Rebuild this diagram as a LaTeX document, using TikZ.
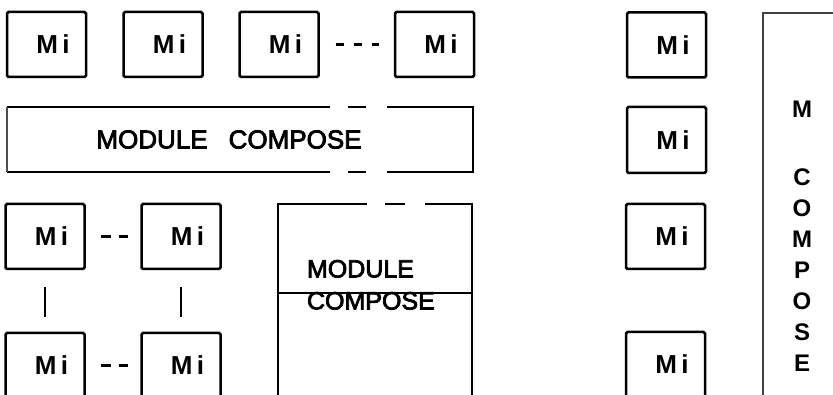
\documentclass[tikz,border=0pt]{standalone}
\usepackage{fontspec}
\setmainfont{Liberation Sans}
\newfontfamily\medfont[FakeBold=3]{Liberation Sans}
\newcommand\MiLbl{\hspace*{13pt}M\kern4.5pt i}
\begin{document}
\begin{tikzpicture}[x=1pt,y=-1pt,
  mibox/.style={draw, line width=2.5pt, minimum width=79pt, minimum height=65pt, inner sep=0pt, outer sep=0pt, rounded corners=1.5pt, font=\bfseries\fontsize{26}{30}\selectfont},
  frame/.style={line width=2.2pt, black},
  dashlinkA/.style={line width=2.2pt, dash pattern=on 8pt off 10pt},
  dashlinkB/.style={line width=2.2pt, dash pattern=on 10pt off 8pt},
  solidlink/.style={line width=2.2pt},
  blank/.style={inner sep=0pt, outer sep=0pt},
]
\useasboundingbox (0,0) rectangle (833,395);
\clip (0,0) rectangle (833,395);

% top row
\node[mibox] (m1) at (46.5,44.5) {\MiLbl};
\node[mibox] (m2) at (163,44.5) {\MiLbl};
\node[mibox] (m3) at (279,44.5) {\MiLbl};
\node[mibox] (m4) at (434.5,44.5) {\MiLbl};
\draw[dashlinkA, shorten <=17pt, shorten >=16pt] (m3.east) -- (m4.west);

% horizontal module compose
\node[blank, minimum width=466pt, minimum height=65pt, font=\medfont\fontsize{26}{30}\selectfont] (mc1) at (240,139.5) {MODULE\hspace{21pt}COMPOSE\hspace*{22pt}};
\draw[frame] (mc1.north west) -- +(323,0);
\draw[frame] ([xshift=341pt]mc1.north west) -- +(18,0);
\draw[frame] ([xshift=-86pt]mc1.north east) -- (mc1.north east) -- (mc1.south east) -- +(-86,0);
\draw[frame] ([xshift=341pt]mc1.south west) -- +(18,0);
\draw[frame] (mc1.south west) -- +(323,0);
\draw[line width=1.2pt, black!70] (mc1.north west) -- (mc1.south west);

% lower-left grid
\node[mibox] (b1) at (45,236.5) {\MiLbl};
\node[mibox] (b2) at (181,236.5) {\MiLbl};
\node[mibox] (b3) at (45,365.5) {\MiLbl};
\node[mibox] (b4) at (181,365.5) {\MiLbl};
\draw[dashlinkB, shorten <=16pt, shorten >=14pt] (b1.east) -- (b2.west);
\draw[dashlinkB, shorten <=16pt, shorten >=14pt] (b3.east) -- (b4.west);
\draw[solidlink, shorten <=18pt, shorten >=16pt] (b1.south) -- (b3.north);
\draw[solidlink, shorten <=18pt, shorten >=16pt] (b2.south) -- (b4.north);

% vertical module compose (lower middle)
\node[blank, minimum width=194pt, minimum height=196pt] (mc2) at (375,302) {};
\draw[frame] ([xshift=89pt]mc2.north west) -- (mc2.north west) -- (mc2.south west);
\draw[frame] ([xshift=107pt]mc2.north west) -- +(20,0);
\draw[frame] ([xshift=-47pt]mc2.north east) -- (mc2.north east) -- (mc2.south east);
\draw[frame] ([yshift=-89pt]mc2.north west) -- ([yshift=-89pt]mc2.north east);
\node[blank, anchor=north west, align=left, font=\medfont\fontsize{25}{32}\selectfont] (mc2t) at (307,260) {MODULE\\COMPOSE};

% right column
\node[mibox] (r1) at (666.5,45) {\MiLbl};
\node[mibox, minimum height=66pt] (r2) at (666.5,140) {\MiLbl};
\node[mibox] (r3) at (665.5,236.5) {\MiLbl};
\node[mibox] (r4) at (665.5,364.5) {\MiLbl};

% tall module compose (right)
\coordinate (mc3) at (763,13);
\draw[line width=2.2pt, black!75] ([xshift=80pt]mc3) -- (mc3) -- ([yshift=-400pt]mc3);
\node[blank, anchor=north, align=center, font=\bfseries\fontsize{24}{31}\selectfont] (mc3t) at (802,101) {M\\[37pt]C\\O\\M\\P\\O\\S\\E};
\end{tikzpicture}
\end{document}
